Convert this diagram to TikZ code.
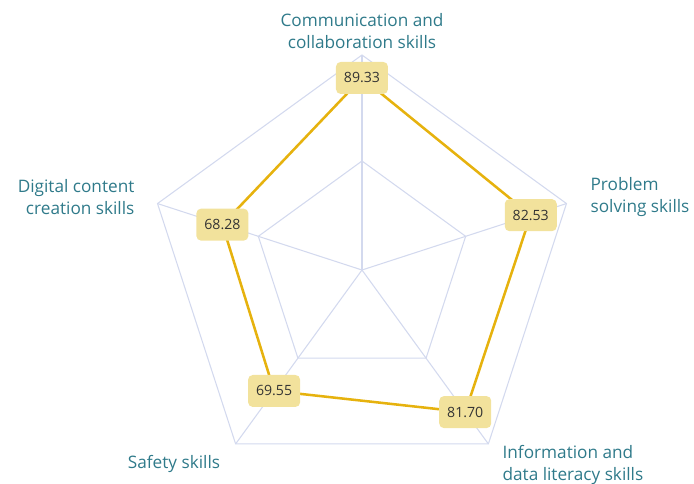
\documentclass[tikz,border=0pt]{standalone}
\usepackage{fontspec}
\setmainfont{Open Sans}
\usepackage{tikz}
\usetikzlibrary{calc}
\usetikzlibrary{positioning}
\definecolor{gridblue}{HTML}{D3D9EE}
\definecolor{linegold}{HTML}{E6B20E}
\definecolor{boxyellow}{HTML}{F2E29C}
\definecolor{axisteal}{HTML}{2F7A8A}
\definecolor{numgray}{HTML}{333333}
\tikzstyle{grid} = [draw=gridblue, line width=0.8pt]
\tikzstyle{val} = [draw=none, fill=boxyellow, rounded corners=3.5pt, minimum width=39pt, minimum height=24pt, inner sep = 1, text=numgray, font=\fontsize{10.6}{12}\selectfont]
\tikzstyle{axis} = [draw=none, inner sep = 1, text=axisteal, font=\fontsize{12.9}{17}\selectfont]

\begin{document}
\begin{tikzpicture}[x=0.75pt, y=0.75pt]
\useasboundingbox (-362, -213) rectangle (332, 270);
% grid
\foreach \r in {109, 215} {
  \draw [grid] (90:\r) -- (18:\r) -- (-54:\r) -- (-126:\r) -- (162:\r) -- cycle;
}
\foreach \a in {90, 18, -54, -126, 162} {
  \draw [grid] (0, 0) -- (\a:215);
}
% data points
\coordinate (P1) at (90:{0.8933*215});
\coordinate (P2) at (18:{0.8253*215});
\coordinate (P3) at (-54:{0.8170*215});
\coordinate (P4) at (-126:{0.6955*215});
\coordinate (P5) at (162:{0.6828*215});
\draw [draw=linegold, line width=1.9pt, line join=round] (P1) -- (P2) -- (P3) -- (P4) -- (P5) -- cycle;
\node [val] (V1) at (P1) {89.33};
\node [val] (V2) at (P2) {82.53};
\node [val] (V3) at (P3) {81.70};
\node [val] (V4) at (P4) {69.55};
\node [val] (V5) at (P5) {68.28};
% axis labels
\node [axis, align=center] (L1) at (0, 239) {Communication and\\collaboration skills};
\node [axis, align=left, anchor=west] (L2) at (227, 73) {Problem\\solving skills};
\node [axis, align=left, anchor=west] (L3) at (139, -195) {Information and\\data literacy skills};
\node [axis, align=center] (L4) at (-188, -194) {Safety skills};
\node [axis, align=right, anchor=east] (L5) at (-226, 73) {Digital content\\creation skills};
\end{tikzpicture}
\end{document}
